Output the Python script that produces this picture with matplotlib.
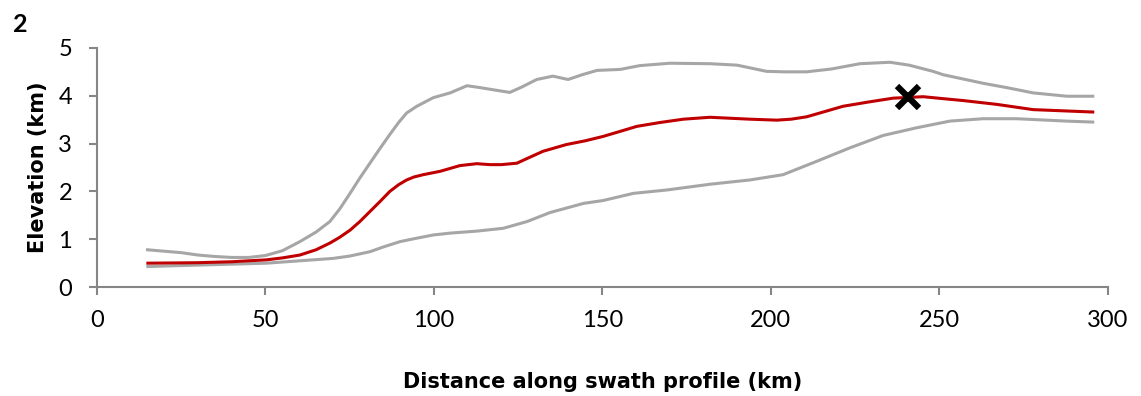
import matplotlib
matplotlib.use("Agg")
import matplotlib.pyplot as plt

plt.rcParams['font.family'] = ['Lato', 'DejaVu Sans']

# Data
max_x = [15, 25, 30, 35, 40, 45, 50, 55, 60.2, 65, 69.1, 72, 75.1, 78, 81, 84, 86.9, 89.5, 91.9, 94.9, 99.8,
         104.8, 109.8, 113.7, 118, 122.5, 126, 130.5, 135.3, 139.8, 144, 148.4, 155.2, 161.1, 170, 181.9,
         189.9, 194, 198.7, 204, 210.6, 218, 226.4, 235.3, 241, 248.1, 251.1, 263, 270, 277.8, 287.8, 295.5]
max_y = [0.78, 0.72, 0.67, 0.64, 0.62, 0.62, 0.66, 0.76, 0.95, 1.15, 1.37, 1.63, 1.96, 2.28, 2.59, 2.90, 3.19, 3.44, 3.64, 3.78, 3.96,
         4.06, 4.21, 4.17, 4.12, 4.07, 4.18, 4.34, 4.41, 4.34, 4.44, 4.53, 4.55, 4.63, 4.68, 4.67,
         4.64, 4.58, 4.51, 4.50, 4.50, 4.56, 4.67, 4.70, 4.64, 4.51, 4.44, 4.26, 4.17, 4.06, 3.99, 3.99]

mean_x = [15.1, 30, 40, 50.3, 55, 60.2, 65, 69.1, 72, 75.1, 78, 81, 84, 86.9, 89.5, 91.9, 94, 96.8, 101.8, 107.7,
          112.7, 116.6, 120, 124.6, 128, 132.4, 139.3, 145, 150.2, 155, 160.2, 167, 174, 181.9, 193.8, 201.7,
          206, 210.6, 216, 221.4, 229, 236.3, 245.2, 251, 257, 267, 277.8, 295.5]
mean_y = [0.50, 0.51, 0.53, 0.57, 0.61, 0.67, 0.78, 0.92, 1.04, 1.19, 1.37, 1.58, 1.79, 2.00, 2.14, 2.24, 2.30, 2.35, 2.42, 2.54,
          2.58, 2.56, 2.56, 2.59, 2.70, 2.84, 2.98, 3.06, 3.15, 3.25, 3.36, 3.44, 3.51, 3.55, 3.51, 3.49,
          3.51, 3.56, 3.67, 3.78, 3.87, 3.95, 3.98, 3.94, 3.90, 3.82, 3.71, 3.66]

min_x = [15.1, 30, 50.3, 60.2, 70.1, 75.1, 81, 85, 89.9, 94, 99.8, 105, 112.7, 120.6, 127.6, 134.5, 144.4, 150.2, 159.2,
         169.1, 181.9, 193.8, 203.6, 213.6, 223.4, 233.3, 243.2, 253.1, 263, 272.9, 287.8, 295.5]
min_y = [0.43, 0.46, 0.50, 0.55, 0.60, 0.65, 0.74, 0.84, 0.95, 1.01, 1.09, 1.13, 1.17, 1.23, 1.37, 1.56, 1.75, 1.81, 1.96,
         2.03, 2.15, 2.24, 2.35, 2.63, 2.91, 3.17, 3.33, 3.47, 3.52, 3.52, 3.47, 3.45]

marker_x = [240.6]
marker_y = [3.97]

x_ticks = [0, 50, 100, 150, 200, 250, 300]
y_ticks = [0, 1, 2, 3, 4, 5]

fig = plt.figure(figsize=(11.41, 3.96), dpi=100)
ax = fig.add_axes([0.085, 0.275, 0.886, 0.604])

grey = '#A6A6A6'
ax.plot(max_x, max_y, color=grey, lw=2.2, solid_joinstyle='round')
ax.plot(min_x, min_y, color=grey, lw=2.2, solid_joinstyle='round')
ax.plot(mean_x, mean_y, color='#C00000', lw=2.2, solid_joinstyle='round')
ax.plot(marker_x, marker_y, marker='x', color='black', markersize=16, mew=4.5, ls='none', zorder=5)

ax.set_xlim(0, 300)
ax.set_ylim(0, 5)
ax.set_xticks(x_ticks)
ax.set_yticks(y_ticks)
for s in ['top', 'right']:
    ax.spines[s].set_visible(False)
for s in ['left', 'bottom']:
    ax.spines[s].set_color('#868686')
    ax.spines[s].set_linewidth(1.5)
ax.tick_params(axis='both', colors='#868686', labelcolor='black', labelsize=17, width=1.5, length=5.8,
               direction='out')
ax.tick_params(axis='x', pad=11)
ax.tick_params(axis='y', pad=12)

label_font = dict(family=['DejaVu Sans'], fontsize=15, fontweight='bold')
ax.set_xlabel('Distance along swath profile (km)', **label_font)
ax.set_ylabel('Elevation (km)', **label_font)
ax.xaxis.set_label_coords(0.5, -0.397)
ax.xaxis.label.set_va('center')
ax.yaxis.set_label_coords(-0.0584, 0.5)
ax.yaxis.label.set_va('center')

fig.text(20 / 1141, 1 - 24 / 396, '2', fontsize=18, fontweight='bold', va='center', ha='center')

fig.savefig('out.png', dpi=100)
